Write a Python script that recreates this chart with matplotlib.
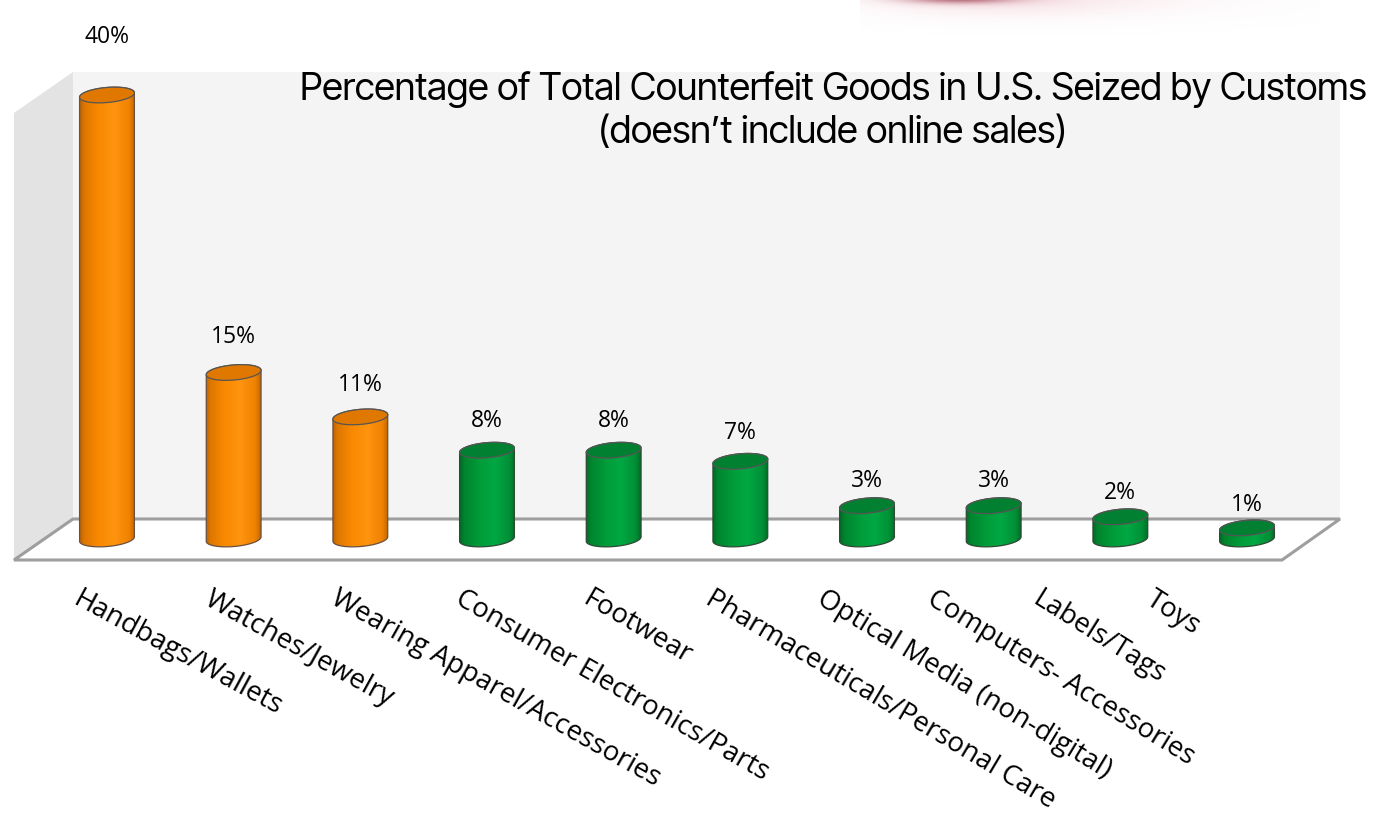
import numpy as np
import matplotlib
matplotlib.use('Agg')
import matplotlib.pyplot as plt
from matplotlib import font_manager
from matplotlib.font_manager import FontProperties
from matplotlib.ft2font import FT2Font
from matplotlib.patches import Polygon
from matplotlib.colors import LinearSegmentedColormap

# ---------------- data ----------------
categories = ['Handbags/Wallets', 'Watches/Jewelry', 'Wearing Apparel/Accessories',
              'Consumer Electronics/Parts', 'Footwear', 'Pharmaceuticals/Personal Care',
              'Optical Media (non-digital)', 'Computers- Accessories', 'Labels/Tags', 'Toys']
values = [40, 15, 11, 8, 8, 7, 3, 3, 2, 1]
value_labels = ['40%', '15%', '11%', '8%', '8%', '7%', '3%', '3%', '2%', '1%']
is_top_group = [True, True, True, False, False, False, False, False, False, False]
title_lines = ['Percentage of Total Counterfeit Goods in U.S. Seized by Customs',
               '(doesn\u2019t include online sales)']

# ---------------- layout / style ----------------
W, H = 1376, 819
label_shift_px = [-25, -21, -21, -23, -22, -26, -41, -57, -78, -91]
# approximate rendered lengths (px) of some reference labels, used to size the font
ref_label_len = {0: 264, 1: 243, 2: 399, 4: 134, 5: 388, 6: 348, 7: 295, 8: 157}

fig = plt.figure(figsize=(W / 100, H / 100), dpi=100)
renderer = fig.canvas.get_renderer()


def text_width(s, fp):
    t = fig.text(0, 0, s, fontproperties=fp)
    w = t.get_window_extent(renderer).width
    t.remove()
    return w


available = {f.name for f in font_manager.fontManager.ttflist}


def pick(*names):
    for n in names:
        if n in available:
            return n
    return 'DejaVu Sans'


def cap_ratio(fn):
    try:
        f = FT2Font(fn)
        os2 = f.get_sfnt_table('OS/2')
        if os2 and os2.get('sCapHeight'):
            return os2['sCapHeight'] / f.units_per_EM
    except Exception:
        pass
    return 0.71


# title face: the regular sans whose width-fitted cap height is closest to the reference
TARGET_CAP_PX = 27.0
cands = []
for f in font_manager.fontManager.ttflist:
    n = f.name
    if any(k in n for k in ('Mono', 'CJK', 'Serif', 'Math', 'Display')):
        continue
    if not any(k in n for k in ('Sans', 'Roboto', 'Lato', 'Inter', 'Open', 'Noto', 'Liberation')):
        continue
    if f.style != 'normal' or f.weight not in (400, 'normal', 'regular', 'book'):
        continue
    cands.append(f.fname)
best = None
for fn in sorted(set(cands)):
    try:
        fp = FontProperties(fname=fn, size=20)
        w = text_width(title_lines[0], fp)
    except Exception:
        continue
    size = 20 * 1066.0 / w
    cap = size * 100 / 72 * cap_ratio(fn)
    score = abs(cap - TARGET_CAP_PX)
    if best is None or score < best[0]:
        best = (score, fn)
title_fp = FontProperties(fname=best[1]) if best else FontProperties(family='Roboto')

label_font = pick('Open Sans', 'Noto Sans', 'Lato')
value_font = pick('Open Sans', 'Lato', 'Noto Sans')

# background (pixel coordinates)
bg = fig.add_axes([0, 0, 1, 1])
bg.axis('off')

# decorative pink blob at the top (cropped picture)
yy, xx = np.mgrid[0:36, 860:1320].astype(float)
a1 = np.exp(-(((xx - 1000) / 130.0) ** 2 + ((yy + 4) / 18.0) ** 2)) * 0.35
a1 += np.exp(-(((xx - 1150) / 150.0) ** 2 + ((yy + 2) / 20.0) ** 2)) * 0.06
img1 = np.zeros(xx.shape + (4,))
img1[..., 0], img1[..., 1], img1[..., 2] = 0.92, 0.68, 0.73
img1[..., 3] = np.clip(a1, 0, 1)
bg.imshow(img1, extent=[860, 1320, 36, 0], aspect='auto', zorder=0, interpolation='bilinear')
a2 = np.exp(-(((xx - 960) / 55.0) ** 2 + ((yy + 2) / 5.0) ** 2)) * 0.75
img2 = np.zeros(xx.shape + (4,))
img2[..., 0], img2[..., 1], img2[..., 2] = 0.62, 0.25, 0.32
img2[..., 3] = a2
bg.imshow(img2, extent=[860, 1320, 36, 0], aspect='auto', zorder=0.1, interpolation='bilinear')
bg.set_xlim(0, W)
bg.set_ylim(H, 0)

# walls and floor
bg.add_patch(Polygon([(14, 113), (73, 72), (73, 519), (14, 560)], closed=True,
                     facecolor='#e3e3e3', edgecolor='none', zorder=1))
bg.add_patch(Polygon([(73, 72), (1340, 72), (1340, 519), (73, 519)], closed=True,
                     facecolor='#f4f4f4', edgecolor='none', zorder=1))
bg.add_patch(Polygon([(14, 560), (73, 519), (1340, 519), (1282, 560)], closed=True,
                     facecolor='white', edgecolor='#9e9e9e', linewidth=2.2, zorder=2,
                     joinstyle='miter'))

# data axes: category index on x, percent on y
SX = 1266.7 / 10.0       # pixels per category
SY = 499.5 / 45.0        # pixels per percent
YMIN, YMAX = -4.0, 45.0
ax = fig.add_axes([43.65 / W, (H - (539 - YMIN * SY)) / H, 1266.7 / W, (YMAX - YMIN) * SY / H],
                  zorder=3)
ax.patch.set_alpha(0)
ax.axis('off')

A_PX, B_PX, TILT = 27.5, 7.5, np.deg2rad(5)


def ell(xc, yc, t):
    px = A_PX * np.cos(t) * np.cos(TILT) - B_PX * np.sin(t) * np.sin(TILT)
    py = A_PX * np.cos(t) * np.sin(TILT) + B_PX * np.sin(t) * np.cos(TILT)
    return xc + px / SX, yc + py / SY


orange_cmap = LinearSegmentedColormap.from_list('o', [
    (0.0, '#a55600'), (0.12, '#dd7700'), (0.35, '#f98900'), (0.62, '#ff9410'),
    (0.86, '#ef8200'), (1.0, '#a85800')])
green_cmap = LinearSegmentedColormap.from_list('g', [
    (0.0, '#005a1e'), (0.12, '#00842e'), (0.38, '#009c3a'), (0.62, '#00a843'),
    (0.86, '#008f36'), (1.0, '#005c20')])

grad = np.linspace(0, 1, 256)

for i, v in enumerate(values):
    cmap = orange_cmap if is_top_group[i] else green_cmap
    top_col = '#e07800' if is_top_group[i] else '#008030'
    tb = np.linspace(np.pi, 2 * np.pi, 80)
    tt = np.linspace(0, np.pi, 80)
    bx, by = ell(i, 0, tb)
    tx, ty = ell(i, v, tt)
    body = Polygon(np.column_stack([np.r_[bx, tx], np.r_[by, ty]]), closed=True,
                   facecolor='none', edgecolor='#6b5040' if is_top_group[i] else '#2f4a35',
                   linewidth=0.9, zorder=4)
    ax.add_patch(body)
    im = ax.imshow(cmap(grad)[None, :, :],
                   extent=[i - 1.1 * A_PX / SX, i + 1.1 * A_PX / SX,
                           -2 * B_PX / SY, v + 2 * B_PX / SY],
                   aspect='auto', zorder=3.5, interpolation='bilinear')
    im.set_clip_path(body)
    ex, ey = ell(i, v, np.linspace(0, 2 * np.pi, 120))
    ax.add_patch(Polygon(np.column_stack([ex, ey]), closed=True, facecolor=top_col,
                         edgecolor='#555555', linewidth=0.9, zorder=5))
    # value label
    ax.text(i, v + (22 + 0.9 * v) / SY, value_labels[i], ha='center', va='center',
            fontsize=16.5, family=value_font, color='black', zorder=6)

ax.set_xlim(-0.5, 9.5)
ax.set_ylim(YMIN, YMAX)

# category labels (size fitted to the reference label lengths)
fp20 = FontProperties(family=label_font, size=20)
w_sum = sum(text_width(categories[k], fp20) for k in ref_label_len)
label_size = 0.96 * 20 * sum(ref_label_len.values()) / w_sum
for i, c in enumerate(categories):
    ax.text(i + label_shift_px[i] / SX, -(585 - 539) / SY, c, rotation=-(28.5 + 0.45 * i),
            rotation_mode='anchor', ha='left', va='top', fontsize=label_size,
            family=label_font, color='black', clip_on=False, zorder=6)

# title (size fitted to the reference width)
tfp = title_fp.copy()
tfp.set_size(20)
wt = text_width(title_lines[0], tfp)
tfp.set_size(20 * 1066.0 / wt)
bg.text(833, 100, title_lines[0], ha='center', va='baseline', fontproperties=tfp,
        color='black', zorder=7)
bg.text(833, 143, title_lines[1], ha='center', va='baseline', fontproperties=tfp,
        color='black', zorder=7)

fig.savefig('out.png', dpi=100)
